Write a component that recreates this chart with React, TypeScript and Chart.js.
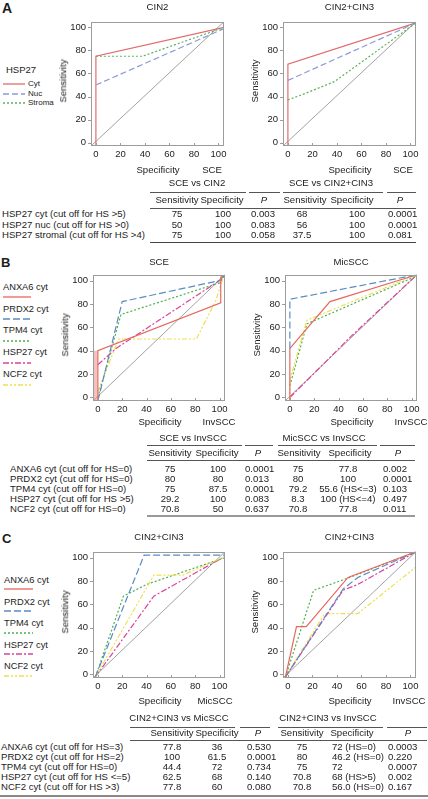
import React, { useEffect, useRef } from "react";
import { Chart, registerables } from "chart.js";
Chart.register(...registerables);

type Pt = [number, number];

// ---------- shared axis data ----------
const AXIS_TICKS = [0, 20, 40, 60, 80, 100];
const X_MIN = -4;
const X_MAX = 104.5;
const Y_MIN = -3;
const Y_MAX = 105;
const DIAGONAL: Pt[] = [[-4, -3], [104.5, 105]];
const Y_TITLE = "Sensitivity";
const X_TITLE = "Specificity";

// ---------- Panel A : HSP27 ----------
const A_LEGEND_TITLE = "HSP27";
const A_SERIES = ["Cyt", "Nuc", "Stroma"];
const A1_TITLE = "CIN2";
const A1_REF = "SCE";
const A1_CYT: Pt[] = [[0, -3], [0, 75], [104.5, 100]];
const A1_NUC: Pt[] = [[0, 50], [104.5, 99]];
const A1_STROMA: Pt[] = [[0, 75], [38, 75], [104.5, 100]];
const A2_TITLE = "CIN2+CIN3";
const A2_REF = "SCE";
const A2_CYT: Pt[] = [[0, -3], [0, 68], [104.5, 104]];
const A2_NUC: Pt[] = [[0, 54], [104.5, 104]];
const A2_STROMA: Pt[] = [[0, 37], [15, 43], [38, 53], [104.5, 104]];

const A_ROWS = [
  "HSP27 cyt (cut off for HS >5)",
  "HSP27 nuc (cut off for HS >0)",
  "HSP27 stromal (cut off for HS >4)",
];
const A_GROUPS = ["SCE vs CIN2", "SCE vs CIN2+CIN3"];
const A_SENS_1 = ["75", "50", "75"];
const A_SPEC_1 = ["100", "100", "100"];
const A_P_1 = ["0.003", "0.083", "0.058"];
const A_SENS_2 = ["68", "56", "37.5"];
const A_SPEC_2 = ["100", "100", "100"];
const A_P_2 = ["0.0001", "0.0001", "0.081"];

// ---------- Panels B & C : markers ----------
const BC_SERIES = ["ANXA6 cyt", "PRDX2 cyt", "TPM4 cyt", "HSP27 cyt", "NCF2 cyt"];

const B1_TITLE = "SCE";
const B1_REF = "InvSCC";
const B1_ANXA6: Pt[] = [[0, -3], [0, 40], [101, 81], [101, 103], [104.5, 105]];
const B1_ANXA6_BAND: Pt[] = [[-2, -3], [-2, 40]];
const B1_PRDX2: Pt[] = [[0, -3], [20, 82], [100, 100], [104.5, 105]];
const B1_TPM4: Pt[] = [[0, 0], [19, 71], [100, 98], [104.5, 105]];
const B1_HSP27: Pt[] = [[0, 28], [15, 42], [100, 100], [104.5, 105]];
const B1_NCF2: Pt[] = [[0, 5], [17, 50], [81, 50], [97, 83], [102, 100], [104.5, 105]];

const B2_TITLE = "MicSCC";
const B2_REF = "InvSCC";
const B2_ANXA6: Pt[] = [[0, -3], [0, 42], [33, 82], [104.5, 105]];
const B2_PRDX2: Pt[] = [[0, 42], [0, 84], [104.5, 105]];
const B2_TPM4: Pt[] = [[0, 10], [14, 63], [104.5, 104]];
const B2_HSP27: Pt[] = [[0, 0], [50, 52], [104.5, 105]];
const B2_NCF2: Pt[] = [[0, -3], [0, 15], [14, 66], [104.5, 105]];

const B_ROWS = [
  "ANXA6 cyt (cut off for HS=0)",
  "PRDX2 cyt (cut off for HS=0)",
  "TPM4 cyt (cut off for HS=0)",
  "HSP27 cyt (cut off for HS >5)",
  "NCF2 cyt (cut off for HS=0)",
];
const B_GROUPS = ["SCE vs InvSCC", "MicSCC vs InvSCC"];
const B_SENS_1 = ["75", "80", "75", "29.2", "70.8"];
const B_SPEC_1 = ["100", "80", "87.5", "100", "50"];
const B_P_1 = ["0.0001", "0.013", "0.0001", "0.083", "0.637"];
const B_SENS_2 = ["75", "80", "79.2", "8.3", "70.8"];
const B_SPEC_2 = ["77.8", "100", "55.6 (HS<=3)", "100 (HS<=4)", "77.8"];
const B_P_2 = ["0.002", "0.0001", "0.103", "0.497", "0.011"];

const C1_TITLE = "CIN2+CIN3";
const C1_REF = "MicSCC";
const C1_PRDX2: Pt[] = [[-2, -2], [38, 102], [104.5, 102]];
const C1_TPM4: Pt[] = [[-2, -2], [21, 67], [40, 77], [104.5, 100]];
const C1_HSP27: Pt[] = [[-2, -2], [46, 67], [104.5, 101]];
const C1_NCF2: Pt[] = [[-2, -2], [46, 85], [70, 85], [104.5, 101]];

const C2_TITLE = "CIN2+CIN3";
const C2_REF = "InvSCC";
const C2_ANXA6: Pt[] = [[-2, -2], [7, 41], [15, 41], [49, 83], [104.5, 105]];
const C2_PRDX2: Pt[] = [[-2, -2], [45, 73], [57, 83], [104.5, 105]];
const C2_TPM4: Pt[] = [[-2, -2], [21, 72], [48, 82], [104.5, 105]];
const C2_HSP27: Pt[] = [[-2, -2], [45, 72], [57, 77], [104.5, 105]];
const C2_NCF2: Pt[] = [[-2, -2], [30, 52], [57, 52], [104.5, 92], [104.5, 105]];

const C_ROWS = [
  "ANXA6 cyt (cut off for HS=3)",
  "PRDX2 cyt (cut off for HS=2)",
  "TPM4 cyt (cut off for HS=0)",
  "HSP27 cyt (cut off for HS <=5)",
  "NCF2 cyt (cut off for HS >3)",
];
const C_GROUPS = ["CIN2+CIN3 vs MicSCC", "CIN2+CIN3 vs InvSCC"];
const C_SENS_1 = ["77.8", "100", "44.4", "62.5", "77.8"];
const C_SPEC_1 = ["36", "61.5", "72", "68", "60"];
const C_P_1 = ["0.530", "0.0001", "0.734", "0.140", "0.080"];
const C_SENS_2 = ["75", "80", "75", "70.8", "70.8"];
const C_SPEC_2 = ["72 (HS=0)", "46.2 (HS=0)", "72", "68 (HS>5)", "56.0 (HS=0)"];
const C_P_2 = ["0.0003", "0.220", "0.0007", "0.002", "0.167"];

const COL_HEADERS = ["Sensitivity", "Specificity", "P"];

// ---------- styles ----------
const FONT = '"Liberation Sans", Arial, Helvetica, sans-serif';
const TEXT = "#1c1c1c";
type Sty = { color: string; dash: number[] };
const STYLE_A: Record<string, Sty> = {
  Cyt: { color: "#e36a6a", dash: [] },
  Nuc: { color: "#8c9ad6", dash: [6, 3] },
  Stroma: { color: "#5cb25c", dash: [2, 2] },
};
const STYLE_BC: Record<string, Sty> = {
  "ANXA6 cyt": { color: "#e7675f", dash: [] },
  "PRDX2 cyt": { color: "#5a8cc4", dash: [7, 3] },
  "TPM4 cyt": { color: "#4fae4f", dash: [2, 2] },
  "HSP27 cyt": { color: "#d8449c", dash: [6, 2, 2, 2] },
  "NCF2 cyt": { color: "#efdf4f", dash: [5, 2, 2, 2, 2, 2] },
};

type Plot = { l: number; t: number; r: number; b: number };
type Series = { pts: Pt[]; color: string; dash: number[]; width?: number };

const framePlugin = {
  id: "frame",
  afterDraw(chart: any) {
    const { ctx, chartArea } = chart;
    const { left, top, right, bottom } = chartArea;
    const xs = chart.scales.x;
    const ys = chart.scales.y;
    ctx.save();
    ctx.strokeStyle = "#9c9c9c";
    ctx.lineWidth = 1;
    ctx.strokeRect(Math.round(left) + 0.5, Math.round(top) + 0.5, Math.round(right - left) - 1, Math.round(bottom - top) - 1);
    ctx.beginPath();
    for (const t of xs.ticks) {
      const px = Math.round(xs.getPixelForValue(t.value)) + 0.5;
      ctx.moveTo(px, bottom);
      ctx.lineTo(px, bottom - 3);
    }
    for (const t of ys.ticks) {
      const py = Math.round(ys.getPixelForValue(t.value)) + 0.5;
      ctx.moveTo(left, py);
      ctx.lineTo(left - 3, py);
    }
    ctx.stroke();
    ctx.restore();
  },
};

const PAD_L = 32;
const PAD_T = 4;
const PAD_R = 6;
const PAD_B = 16;

function Roc({ plot, series }: { plot: Plot; series: Series[] }) {
  const ref = useRef<HTMLCanvasElement>(null);
  const w = plot.r - plot.l + PAD_L + PAD_R;
  const h = plot.b - plot.t + PAD_T + PAD_B;
  useEffect(() => {
    const all: Series[] = [...series, { pts: DIAGONAL, color: "#8a8a8a", dash: [], width: 0.8 }];
    const datasets = all.map((s) => ({
      data: s.pts.map(([x, y]) => ({ x, y })),
      borderColor: s.color,
      borderDash: s.dash,
      borderWidth: s.width ?? 1.2,
      pointRadius: 0,
      tension: 0,
      fill: false,
    }));
    const tickFont = { family: FONT, size: 9.5 };
    const chart = new Chart(ref.current as HTMLCanvasElement, {
      type: "line",
      data: { datasets },
      options: {
        responsive: false,
        animation: false,
        layout: { padding: { left: 0, top: PAD_T, right: PAD_R, bottom: 0 }, autoPadding: false },
        plugins: { legend: { display: false }, tooltip: { enabled: false } },
        scales: {
          x: {
            type: "linear",
            min: X_MIN,
            max: X_MAX,
            afterBuildTicks: (ax: any) => {
              ax.ticks = AXIS_TICKS.map((v) => ({ value: v }));
            },
            afterFit: (s: any) => {
              s.height = PAD_B;
            },
            grid: { display: false, drawTicks: false },
            border: { display: false },
            ticks: { font: tickFont, color: TEXT, padding: 3, maxRotation: 0, autoSkip: false },
          },
          y: {
            type: "linear",
            min: Y_MIN,
            max: Y_MAX,
            afterBuildTicks: (ax: any) => {
              ax.ticks = AXIS_TICKS.map((v) => ({ value: v }));
            },
            afterFit: (s: any) => {
              s.width = PAD_L;
            },
            grid: { display: false, drawTicks: false },
            border: { display: false },
            ticks: { font: tickFont, color: TEXT, padding: 5, autoSkip: false },
          },
        },
      },
      plugins: [framePlugin],
    } as any);
    return () => chart.destroy();
  }, []);
  return (
    <canvas
      ref={ref}
      width={w}
      height={h}
      style={{ position: "absolute", left: plot.l - PAD_L, top: plot.t - PAD_T, width: w, height: h }}
    />
  );
}

function Txt({
  x,
  y,
  children,
  align = "left",
  size = 9.6,
  bold = false,
  italic = false,
  rotate = false,
}: {
  x: number;
  y: number;
  children: React.ReactNode;
  align?: "left" | "center" | "right";
  size?: number;
  bold?: boolean;
  italic?: boolean;
  rotate?: boolean;
}) {
  const tx = align === "left" ? "0" : align === "center" ? "-50%" : "-100%";
  return (
    <div
      style={{
        position: "absolute",
        left: x,
        top: y,
        transform: `translate(${tx},-50%)${rotate ? " rotate(-90deg)" : ""}`,
        fontSize: size,
        lineHeight: 1,
        whiteSpace: "nowrap",
        fontWeight: bold ? "bold" : "normal",
        fontStyle: italic ? "italic" : "normal",
      }}
    >
      {children}
    </div>
  );
}

function PlotLabels({
  plot,
  title,
  refLabel,
  refX,
  titleDy,
  specDy,
}: {
  plot: Plot;
  title: string;
  refLabel: string;
  refX: number;
  titleDy: number;
  specDy: number;
}) {
  return (
    <>
      <Txt x={(plot.l + plot.r) / 2} y={plot.t - titleDy} align="center" size={9.6}>
        {title}
      </Txt>
      <Txt x={plot.l - 28} y={(plot.t + plot.b) / 2} align="center" size={9.6} rotate>
        {Y_TITLE}
      </Txt>
      <Txt x={plot.l + 67} y={plot.b + specDy} align="center" size={9.6}>
        {X_TITLE}
      </Txt>
      <Txt x={refX} y={plot.b + specDy} align="center" size={9.6}>
        {refLabel}
      </Txt>
    </>
  );
}

function LegendLine({ x1, x2, y, sty }: { x1: number; x2: number; y: number; sty: Sty }) {
  return (
    <svg style={{ position: "absolute", left: x1, top: y - 2, overflow: "visible" }} width={x2 - x1} height={4}>
      <line
        x1={0}
        y1={2}
        x2={x2 - x1}
        y2={2}
        stroke={sty.color}
        strokeWidth={1.3}
        strokeDasharray={sty.dash.length ? sty.dash.join(" ") : undefined}
      />
    </svg>
  );
}

type TableLayout = {
  labelX: number;
  groupY: number;
  groupX: number[];
  segY: number;
  segs: number[][];
  headY: number;
  headX: number[];
  line2Y: number;
  lineX: number[];
  rowY0: number;
  rowDy: number;
  colX: number[];
  colAlign: ("left" | "center")[];
  bottomY: number;
  bottomX: number[];
  bottomW: number;
  bottomColor: string;
};

function HLine({ x1, x2, y, w = 1, color = "#555" }: { x1: number; x2: number; y: number; w?: number; color?: string }) {
  return <div style={{ position: "absolute", left: x1, top: y - w / 2, width: x2 - x1, height: w, background: color }} />;
}

function StatTable({
  rows,
  groups,
  cols,
  L,
}: {
  rows: string[];
  groups: string[];
  cols: string[][];
  L: TableLayout;
}) {
  const heads = [...COL_HEADERS, ...COL_HEADERS];
  return (
    <>
      {groups.map((g, i) => (
        <Txt key={"g" + i} x={L.groupX[i]} y={L.groupY} align="center">
          {g}
        </Txt>
      ))}
      {L.segs.map((s, i) => (
        <HLine key={"s" + i} x1={s[0]} x2={s[1]} y={L.segY} />
      ))}
      {heads.map((h, i) => (
        <Txt key={"h" + i} x={L.headX[i]} y={L.headY} align="center" italic={h === "P"}>
          {h}
        </Txt>
      ))}
      <HLine x1={L.lineX[0]} x2={L.lineX[1]} y={L.line2Y} />
      {rows.map((r, ri) => (
        <React.Fragment key={"r" + ri}>
          <Txt x={L.labelX} y={L.rowY0 + ri * L.rowDy}>
            {r}
          </Txt>
          {cols.map((c, ci) => (
            <Txt key={ci} x={L.colX[ci]} y={L.rowY0 + ri * L.rowDy} align={L.colAlign[ci]}>
              {c[ri]}
            </Txt>
          ))}
        </React.Fragment>
      ))}
      <HLine x1={L.bottomX[0]} x2={L.bottomX[1]} y={L.bottomY} w={L.bottomW} color={L.bottomColor} />
    </>
  );
}

const P_A1: Plot = { l: 91, t: 15, r: 224, b: 146 };
const P_A2: Plot = { l: 283, t: 15, r: 416, b: 146 };
const P_B1: Plot = { l: 93, t: 268, r: 225, b: 401 };
const P_B2: Plot = { l: 285, t: 268, r: 417, b: 401 };
const P_C1: Plot = { l: 93, t: 545, r: 225, b: 678 };
const P_C2: Plot = { l: 283, t: 545, r: 416, b: 678 };

const TL_A: TableLayout = {
  labelX: 2,
  groupY: 183,
  groupX: [197, 331],
  segY: 192,
  segs: [[150, 246], [249, 280], [283, 383], [387, 416]],
  headY: 200,
  headX: [177, 222, 264, 305, 352, 400],
  line2Y: 208,
  lineX: [150, 416],
  rowY0: 214,
  rowDy: 10.5,
  colX: [177, 223, 251, 302, 357, 388],
  colAlign: ["center", "center", "left", "center", "center", "left"],
  bottomY: 242,
  bottomX: [150, 416],
  bottomW: 1,
  bottomColor: "#444",
};
const TL_B: TableLayout = {
  labelX: 10,
  groupY: 438,
  groupX: [193, 324],
  segY: 445,
  segs: [[147, 242], [245, 273], [278, 377], [380, 415]],
  headY: 453,
  headX: [170, 217, 258, 299, 350, 398],
  line2Y: 460,
  lineX: [147, 415],
  rowY0: 469.3,
  rowDy: 10,
  colX: [170, 218, 245, 298, 348, 383],
  colAlign: ["center", "center", "left", "center", "center", "left"],
  bottomY: 516,
  bottomX: [147, 415],
  bottomW: 2,
  bottomColor: "#999",
};
const TL_C: TableLayout = {
  labelX: 1,
  groupY: 718,
  groupX: [179, 328],
  segY: 727,
  segs: [[130, 235], [240, 270], [278, 383], [387, 427]],
  headY: 733,
  headX: [172, 217, 258, 302, 352, 408],
  line2Y: 740,
  lineX: [130, 427],
  rowY0: 746.7,
  rowDy: 10.15,
  colX: [172, 217, 247, 302, 332, 388],
  colAlign: ["center", "center", "left", "center", "left", "left"],
  bottomY: 796,
  bottomX: [0, 428],
  bottomW: 2,
  bottomColor: "#888",
};

const sA = (name: string, pts: Pt[]): Series => ({ pts, ...STYLE_A[name] });
const sB = (name: string, pts: Pt[]): Series => ({ pts, ...STYLE_BC[name] });

export default function App() {
  useEffect(() => {
    document.body.style.margin = "0";
  }, []);
  const aData1 = [A1_CYT, A1_NUC, A1_STROMA];
  const aData2 = [A2_CYT, A2_NUC, A2_STROMA];
  return (
    <div
      style={{
        position: "absolute",
        left: 0,
        top: 0,
        width: 428,
        height: 799,
        overflow: "hidden",
        background: "#fff",
        color: TEXT,
        fontFamily: FONT,
      }}
    >
      {/* ---------- A ---------- */}
      <Txt x={2} y={8} size={14} bold>
        A
      </Txt>
      <Txt x={6} y={70} size={9.5}>
        {A_LEGEND_TITLE}
      </Txt>
      {A_SERIES.map((n, i) => (
        <React.Fragment key={n}>
          <LegendLine x1={3} x2={25} y={84 + i * 9.5} sty={STYLE_A[n]} />
          <Txt x={28} y={84 + i * 9.5} size={8}>
            {n}
          </Txt>
        </React.Fragment>
      ))}
      <Roc plot={P_A1} series={[...A_SERIES.map((n, i) => sA(n, aData1[i]))].reverse()} />
      <PlotLabels plot={P_A1} title={A1_TITLE} refLabel={A1_REF} refX={212} titleDy={8} specDy={24} />
      <Roc plot={P_A2} series={[...A_SERIES.map((n, i) => sA(n, aData2[i]))].reverse()} />
      <PlotLabels plot={P_A2} title={A2_TITLE} refLabel={A2_REF} refX={403} titleDy={8} specDy={24} />
      <StatTable
        rows={A_ROWS}
        groups={A_GROUPS}
        cols={[A_SENS_1, A_SPEC_1, A_P_1, A_SENS_2, A_SPEC_2, A_P_2]}
        L={TL_A}
      />

      {/* ---------- B ---------- */}
      <Txt x={1} y={262} size={13} bold>
        B
      </Txt>
      {BC_SERIES.map((n, i) => (
        <React.Fragment key={n}>
          <Txt x={3} y={288 + i * 21.7} size={9.3}>
            {n}
          </Txt>
          <LegendLine x1={3} x2={31} y={296.5 + i * 22.2} sty={STYLE_BC[n]} />
        </React.Fragment>
      ))}
      <Roc
        plot={P_B1}
        series={[
          sB("ANXA6 cyt", B1_ANXA6),
          sB("PRDX2 cyt", B1_PRDX2),
          sB("TPM4 cyt", B1_TPM4),
          sB("HSP27 cyt", B1_HSP27),
          sB("NCF2 cyt", B1_NCF2),
          { pts: B1_ANXA6_BAND, color: "rgba(225,120,110,0.45)", dash: [], width: 4 },
        ]}
      />
      <PlotLabels plot={P_B1} title={B1_TITLE} refLabel={B1_REF} refX={219} titleDy={6} specDy={21} />
      <Roc
        plot={P_B2}
        series={[
          sB("PRDX2 cyt", B2_PRDX2),
          sB("ANXA6 cyt", B2_ANXA6),
          sB("NCF2 cyt", B2_NCF2),
          sB("TPM4 cyt", B2_TPM4),
          sB("HSP27 cyt", B2_HSP27),
        ]}
      />
      <PlotLabels plot={P_B2} title={B2_TITLE} refLabel={B2_REF} refX={411} titleDy={6} specDy={21} />
      <StatTable
        rows={B_ROWS}
        groups={B_GROUPS}
        cols={[B_SENS_1, B_SPEC_1, B_P_1, B_SENS_2, B_SPEC_2, B_P_2]}
        L={TL_B}
      />

      {/* ---------- C ---------- */}
      <Txt x={2} y={538} size={13} bold>
        C
      </Txt>
      {BC_SERIES.map((n, i) => (
        <React.Fragment key={n}>
          <Txt x={4} y={581 + i * 21.5} size={9.3}>
            {n}
          </Txt>
          <LegendLine x1={4} x2={33} y={589 + i * 21.8} sty={STYLE_BC[n]} />
        </React.Fragment>
      ))}
      <Roc
        plot={P_C1}
        series={[
          sB("PRDX2 cyt", C1_PRDX2),
          sB("NCF2 cyt", C1_NCF2),
          sB("TPM4 cyt", C1_TPM4),
          sB("HSP27 cyt", C1_HSP27),
        ]}
      />
      <PlotLabels plot={P_C1} title={C1_TITLE} refLabel={C1_REF} refX={215} titleDy={8} specDy={23} />
      <Roc
        plot={P_C2}
        series={[
          sB("ANXA6 cyt", C2_ANXA6),
          sB("TPM4 cyt", C2_TPM4),
          sB("PRDX2 cyt", C2_PRDX2),
          sB("HSP27 cyt", C2_HSP27),
          sB("NCF2 cyt", C2_NCF2),
        ]}
      />
      <PlotLabels plot={P_C2} title={C2_TITLE} refLabel={C2_REF} refX={409} titleDy={8} specDy={23} />
      <StatTable
        rows={C_ROWS}
        groups={C_GROUPS}
        cols={[C_SENS_1, C_SPEC_1, C_P_1, C_SENS_2, C_SPEC_2, C_P_2]}
        L={TL_C}
      />
    </div>
  );
}
